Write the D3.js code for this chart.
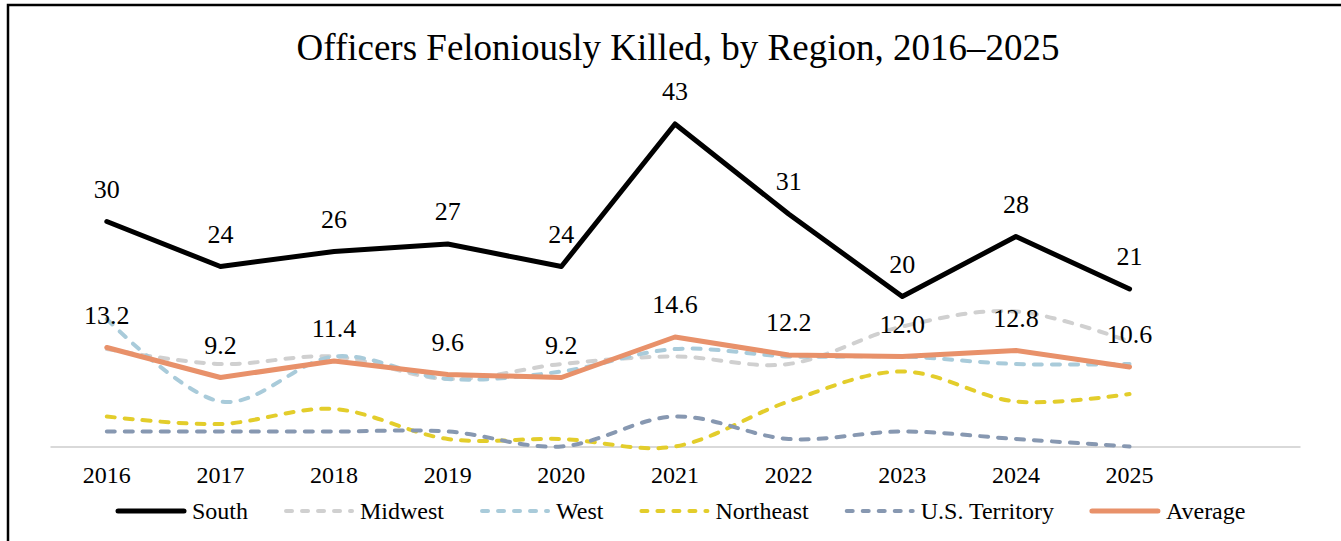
<!DOCTYPE html>
<html>
<head>
<meta charset="utf-8">
<script src="https://cdn.jsdelivr.net/npm/d3@7"></script>
<style>
  body { margin: 0; background: #fff; }
</style>
</head>
<body>
<div id="chart"></div>
<script>
var years = ["2016", "2017", "2018", "2019", "2020", "2021", "2022", "2023", "2024", "2025"];
var south = [30, 24, 26, 27, 24, 43, 31, 20, 28, 21];
var midwest = [13, 11, 12, 9, 11, 12, 11, 16, 18, 14];
var west = [17, 6, 12, 9, 10, 13, 12, 12, 11, 11];
var northeast = [4, 3, 5, 1, 1, 0, 6, 10, 6, 7];
var territory = [2, 2, 2, 2, 0, 4, 1, 2, 1, 0];
var average = [13.2, 9.2, 11.4, 9.6, 9.2, 14.6, 12.2, 12.0, 12.8, 10.6];

var series = [
  {name: "South", values: south, color: "#000000", width: 5, dash: null, smooth: false, labels: "int"},
  {name: "Midwest", values: midwest, color: "#d0d0d0", width: 4, dash: "8,10", smooth: true},
  {name: "West", values: west, color: "#a9cbda", width: 4, dash: "8,10", smooth: true},
  {name: "Northeast", values: northeast, color: "#e3cd2b", width: 4, dash: "8,10", smooth: true},
  {name: "U.S. Territory", values: territory, color: "#8798b1", width: 4, dash: "8,10", smooth: true},
  {name: "Average", values: average, color: "#e8916a", width: 5, dash: null, smooth: false, labels: "dec"}
];

var width = 1341, height = 541;
var serif = "'Liberation Serif', 'Times New Roman', Times, serif";

var svg = d3.select("#chart").append("svg")
    .attr("width", width)
    .attr("height", height)
    .attr("font-family", serif);

// frame, runs off the right and bottom edges like the source
svg.append("rect")
    .attr("x", 8).attr("y", 5)
    .attr("width", 1400).attr("height", 600)
    .attr("fill", "none")
    .attr("stroke", "#000")
    .attr("stroke-width", 2.5);

svg.append("text")
    .attr("x", 678).attr("y", 60)
    .attr("text-anchor", "middle")
    .style("font-family", serif)
    .style("font-size", "37px")
    .text("Officers Feloniously Killed, by Region, 2016\u20132025");

// an empty slot at the end, the axis runs past 2025
var x = d3.scaleBand().domain(years.concat([" "])).range([50, 1300]);
var y = d3.scaleLinear().domain([0, 45]).range([446.5, 109]);

function cx(i) { return x(years[i]) + x.bandwidth() / 2; }

var axis = svg.append("g")
    .attr("transform", "translate(0," + y(0) + ")")
    .call(d3.axisBottom(x).tickValues(years).tickSize(0));
axis.attr("font-family", serif);
axis.select(".domain").attr("stroke", "#d9d9d9").attr("stroke-width", 2);
axis.selectAll("text")
    .attr("y", 36).attr("dy", 0)
    .attr("fill", "#000")
    .style("font-size", "24px")
    .style("font-family", serif);

var g = svg.append("g");

series.forEach(function(s) {
  var line = d3.line()
      .x(function(d, i) { return cx(i); })
      .y(function(d) { return y(d); })
      .curve(s.smooth ? d3.curveCardinal.tension(0) : d3.curveLinear);

  g.append("path")
      .datum(s.values)
      .attr("d", line)
      .attr("fill", "none")
      .attr("stroke", s.color)
      .attr("stroke-width", s.width)
      .attr("stroke-linecap", "round")
      .attr("stroke-linejoin", "round")
      .attr("stroke-dasharray", s.dash);
});

// data labels for South and Average
series.filter(function(s) { return s.labels; }).forEach(function(s) {
  g.selectAll(null)
      .data(s.values)
      .enter().append("text")
      .attr("x", function(d, i) { return cx(i); })
      .attr("y", function(d) { return y(d) - 24; })
      .attr("text-anchor", "middle")
      .style("font-family", serif)
      .style("font-size", "26px")
      .text(function(d) { return s.labels == "dec" ? d3.format(".1f")(d) : d; });
});

// legend
var lg = svg.append("g").attr("transform", "translate(0,511)");
var lx = 116;
series.forEach(function(s) {
  var item = lg.append("g").attr("transform", "translate(" + lx + ",0)");
  item.append("line")
      .attr("x1", 2).attr("x2", 68)
      .attr("stroke", s.color)
      .attr("stroke-width", s.width)
      .attr("stroke-linecap", "round")
      .attr("stroke-dasharray", s.dash ? "6,10" : null);
  var t = item.append("text")
      .attr("x", 76).attr("y", 8)
      .style("font-family", serif)
      .style("font-size", "24px")
      .text(s.name);
  lx += 76 + t.node().getComputedTextLength() + 36;
});
</script>
</body>
</html>
